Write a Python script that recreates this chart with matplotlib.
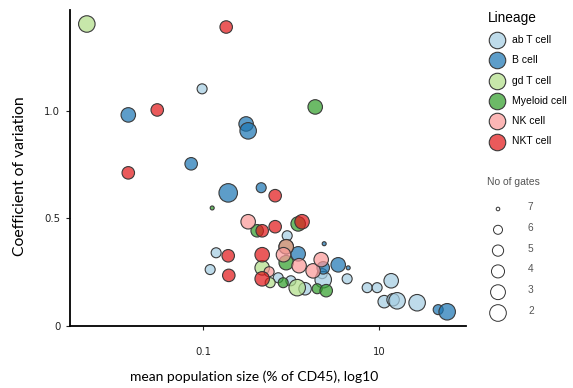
import matplotlib
matplotlib.use('Agg')
import matplotlib.pyplot as plt
from matplotlib.colors import to_rgba

# one entry per population: lineage, mean size (% of CD45), CV, number of gates
lineage = (['ab T cell'] * 17 + ['B cell'] * 13 + ['gd T cell'] * 4 +
           ['Myeloid cell'] * 9 + ['NK cell'] * 7 + ['NKT cell'] * 11)
pop_size = [
    # ab T cell
    0.098, 0.908, 0.1415, 0.121, 4.36, 0.718, 1.45, 2.27, 2.33, 7.36, 9.55,
    13.8, 11.5, 14.5, 16.1, 27.2, 1.0,
    # B cell
    0.0142, 0.310, 0.327, 0.0736, 0.194, 0.46, 1.21, 2.33, 3.45, 2.39, 4.48,
    47.2, 59.7,
    # gd T cell
    0.0048, 0.472, 0.582, 1.18,
    # Myeloid cell
    1.89, 0.1276, 0.414, 1.21, 0.885, 0.885, 0.818, 1.99, 2.52,
    # NK cell
    0.327, 0.885, 0.824, 1.24, 1.79, 2.21, 0.566,
    # NKT cell
    0.184, 0.0303, 0.0142, 0.663, 0.472, 0.663, 1.34, 0.194, 0.472, 0.472,
    0.197,
]
cv = [
    1.101, 0.419, 0.340, 0.262, 0.219, 0.224, 0.173, 0.243, 0.215,
    0.178, 0.178, 0.210, 0.113, 0.122, 0.117, 0.108, 0.21,
    0.980, 0.938, 0.906, 0.753, 0.618, 0.642, 0.335, 0.270, 0.284, 0.382,
    0.270, 0.076, 0.066,
    1.402, 0.270, 0.201, 0.178,
    1.017, 0.548, 0.442, 0.474, 0.368, 0.294, 0.201, 0.173, 0.164,
    0.484, 0.368, 0.331, 0.280, 0.256, 0.308, 0.252,
    1.388, 1.003, 0.711, 0.605, 0.442, 0.461, 0.484, 0.326, 0.331, 0.219,
    0.235,
]
gates = [
    6, 6, 6, 6, 6, 6, 5, 6, 3, 6, 6, 4, 5, 5, 3, 3, 6,
    4, 4, 3, 5, 2, 6, 4, 5, 4, 7, 7, 6, 3,
    3, 4, 6, 3,
    4, 7, 5, 4, 4, 4, 6, 6, 5,
    4, 4, 4, 4, 4, 4, 6,
    5, 5, 5, 5, 5, 5, 4, 5, 4, 4, 5,
]

lineages = ['ab T cell', 'B cell', 'gd T cell', 'Myeloid cell', 'NK cell', 'NKT cell']
colours = ['#a6cee3', '#1f78b4', '#b2df8a', '#33a02c', '#fb9a99', '#e31a1c']
gate_levels = [7, 6, 5, 4, 3, 2]
gate_diam = {7: 4, 6: 10, 5: 12.5, 4: 14.5, 3: 16.5, 2: 18.5}


def marker_area(d_px):
    return (d_px * 0.72) ** 2


def plot_cv(out='out.png'):
    fig = plt.figure(figsize=(5.73, 3.88), dpi=100)
    ax = fig.add_axes([70 / 573, 1 - 326 / 388, 396 / 573, 316 / 388])

    col_of = dict(zip(lineages, colours))
    face = [to_rgba(col_of[l], 0.72) for l in lineage]
    ax.scatter(pop_size, cv, s=[marker_area(gate_diam[g]) for g in gates],
               c=face, edgecolors='#3a3a3a', linewidths=0.8, zorder=3)

    ax.set_xscale('log')
    ax.set_xlim(10 ** -2.51, 10 ** 1.99)
    ax.set_ylim(0, 1.467)
    ax.set_xticks([0.1, 10])
    ax.set_xticklabels(['0.1', '10'])
    ax.xaxis.set_minor_locator(matplotlib.ticker.NullLocator())
    ax.set_yticks([0, 0.5, 1.0])
    ax.set_yticklabels(['0', '0.5', '1.0'])
    ax.tick_params(labelsize=7.3, length=3, width=0.8, colors='#222222', pad=12)
    ax.tick_params(axis='y', pad=4)
    for s in ['top', 'right']:
        ax.spines[s].set_visible(False)
    for s in ['left', 'bottom']:
        ax.spines[s].set_linewidth(1.3)

    ax.set_xlabel('mean population size (% of CD45), log10', fontfamily='Lato',
                  fontsize=10)
    ax.xaxis.set_label_coords(0.465, -0.142)
    ax.set_ylabel('Coefficient of variation', fontfamily='Lato', fontsize=11.3)
    ax.yaxis.set_label_coords(-0.108, 0.475)

    # legends drawn on an overlay in pixel space
    lg = fig.add_axes([0, 0, 1, 1])
    lg.set_xlim(0, 573)
    lg.set_ylim(388, 0)
    lg.axis('off')
    lg.text(488, 18, 'Lineage', fontsize=9.8, fontfamily='Liberation Sans',
            va='center', ha='left')
    for i, (name, col) in enumerate(zip(lineages, colours)):
        y = 40 + i * 20.3
        lg.scatter([497], [y], s=marker_area(16.5), c=[to_rgba(col, 0.72)],
                   edgecolors='#3a3a3a', linewidths=0.8)
        lg.text(512, y, name, fontsize=7.5, fontfamily='Liberation Sans',
                va='center', ha='left')
    lg.text(487, 182, 'No of gates', fontsize=7.5, fontfamily='Liberation Sans',
            color='#555555', va='center', ha='left')
    for i, g in enumerate(gate_levels):
        y = 209 + i * 20.8
        lg.scatter([498], [y], s=marker_area(gate_diam[g] * 0.9), facecolors='none',
                   edgecolors='#333333', linewidths=0.7)
        lg.text(528, y - 2, str(g), fontsize=7.3, fontfamily='Liberation Sans',
                color='#555555', va='center', ha='left')

    fig.savefig(out, dpi=100)
    plt.close(fig)


plot_cv()
